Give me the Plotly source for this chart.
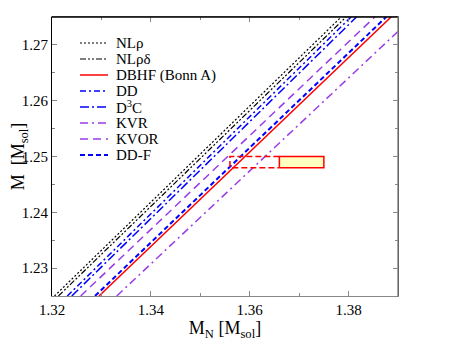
import plotly.graph_objs as go

# gravitational mass at the ends of each line
m_grav = [1.225, 1.275]

# baryonic mass M_N at those ends, per model
mn_nlrho = [1.3205, 1.3785]
mn_nlrhodelta = [1.3213, 1.3795]
mn_dbhf = [1.3295, 1.3886]
mn_dd = [1.3231, 1.3805]
mn_d3c = [1.3240, 1.3816]
mn_kvr = [1.3331, 1.3931]
mn_kvor = [1.3258, 1.3853]
mn_ddf = [1.3287, 1.3876]

# constraint boxes (M_N range, M range)
box_solid_mn = [1.366, 1.375]
box_dash_mn = [1.356, 1.366]
box_m = [1.248, 1.250]

purple = '#9a3ce6'
series = [
    ('NLρ', mn_nlrho, 'black', '2px,2px', 1.2),
    ('NLρδ', mn_nlrhodelta, 'black', '6px,2px,2px,2px,2px,2px', 1.2),
    ('DBHF (Bonn A)', mn_dbhf, 'red', 'solid', 1.5),
    ('DD', mn_dd, 'blue', '6px,3px,2px,3px', 1.5),
    ('D<sup>3</sup>C', mn_d3c, 'blue', '9px,3px,2px,3px', 1.5),
    ('KVR', mn_kvr, purple, '8px,4px,2px,4px', 1.5),
    ('KVOR', mn_kvor, purple, '8px,5px', 1.5),
    ('DD-F', mn_ddf, 'blue', '5px,3px', 2),
]

# plot area in window pixels; the page body adds an 8px offset
OFF = 8
L, R, T, B = 52, 398, 17, 296


def px(x):
    return (x - L) / (R - L)


def py(y):
    return 1 - (y - T) / (B - T)


data = []
shapes = []
annotations = []
for i, (name, mn, col, dash, w) in enumerate(series):
    data.append(go.Scatter(x=mn, y=m_grav, mode='lines', name=name,
                           showlegend=False,
                           line=dict(color=col, dash=dash, width=w)))
    yy = py(43 + i * 16)
    shapes.append(dict(type='line', xref='paper', yref='paper',
                       x0=px(80), x1=px(108), y0=yy, y1=yy,
                       line=dict(color=col, dash=dash, width=w)))
    annotations.append(dict(text=name, xref='paper', yref='paper',
                            x=px(114), y=yy, xanchor='left', yanchor='middle',
                            showarrow=False, font=dict(size=15)))

bx, by = box_dash_mn, box_m
data.append(go.Scatter(x=[bx[1], bx[0], bx[0], bx[1]],
                       y=[by[1], by[1], by[0], by[0]],
                       mode='lines', showlegend=False,
                       line=dict(color='red', dash='6px,3px', width=1.5)))
bx = box_solid_mn
data.append(go.Scatter(x=[bx[0], bx[1], bx[1], bx[0], bx[0]],
                       y=[by[0], by[0], by[1], by[1], by[0]],
                       mode='lines', fill='toself', fillcolor='#ffffc0',
                       showlegend=False, line=dict(color='red', width=1.5)))

shapes += [
    dict(type='line', xref='paper', yref='paper', x0=0, x1=1, y0=1, y1=1,
         line=dict(color='black', width=1.5)),
    dict(type='line', xref='paper', yref='paper', x0=1, x1=1, y0=0, y1=1,
         line=dict(color='#888', width=1.5)),
]

font = dict(family='Liberation Serif', size=15, color='black')

layout = go.Layout(
    width=451 - OFF, height=349 - OFF,
    margin=dict(l=L - OFF, r=451 - R, t=T - OFF, b=349 - B),
    paper_bgcolor='white', plot_bgcolor='white',
    font=font,
    showlegend=False,
    xaxis=dict(range=[1.32, 1.39], dtick=0.02, tickformat='.2f',
               ticks='inside', ticklen=5, tickcolor='#888',
               minor=dict(dtick=0.01, ticks='inside', ticklen=3, tickcolor='#888'),
               showline=True, linecolor='#888', mirror='allticks',
               showgrid=False, zeroline=False, automargin=False,
               title=dict(text='M<sub>N</sub> [M<sub>sol</sub>]', standoff=0)),
    yaxis=dict(range=[1.225, 1.275], dtick=0.01, tickformat='.2f',
               ticks='inside', ticklen=5, tickcolor='#888',
               minor=dict(dtick=0.005, ticks='inside', ticklen=3, tickcolor='#888'),
               showline=True, linecolor='black', mirror='allticks',
               showgrid=False, zeroline=False, automargin=False,
               title=dict(text='M  [M<sub>sol</sub>]', standoff=13)),
    shapes=shapes,
    annotations=annotations,
)

fig = go.Figure(data=data, layout=layout)
fig.write_html('out.html')
